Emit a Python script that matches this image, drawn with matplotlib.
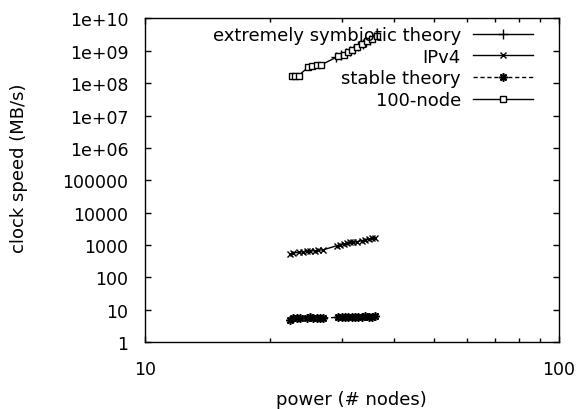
import matplotlib

matplotlib.use("Agg")

import matplotlib.pyplot as plt
from matplotlib.ticker import FixedLocator, FixedFormatter, LogLocator, NullFormatter, NullLocator


# series
SYMBIOTIC_X = [29.0, 29.8, 30.6, 31.3, 32.0, 32.8, 33.6, 34.3, 35.0, 35.8]
SYMBIOTIC_Y = [6.3e8, 7.6e8, 8.8e8, 1.0e9, 1.15e9, 1.35e9, 1.6e9, 1.85e9, 2.15e9, 2.6e9]

IPV4_X = [22.4, 22.8, 23.5, 24.1, 24.6, 25.1, 25.8, 26.2, 27.0, 29.1, 29.6,
          30.2, 30.7, 31.3, 31.9, 32.5, 33.4, 34.0, 34.7, 35.3, 36.0]
IPV4_Y = [530, 570, 600, 625, 645, 660, 670, 690, 720, 960, 1030,
          1080, 1140, 1220, 1220, 1270, 1370, 1440, 1540, 1600, 1650]

STABLE_X = [22.4, 22.8, 23.3, 23.7, 24.6, 25.1, 25.5, 26.0, 26.5, 27.0, 29.3,
            29.9, 30.4, 31.0, 31.6, 32.2, 32.8, 33.4, 34.0, 34.7, 35.3, 36.0]
STABLE_Y = [5.0, 5.5, 5.7, 5.5, 5.7, 5.9, 5.7, 5.7, 5.5, 5.6, 5.9,
            5.9, 6.0, 5.9, 6.0, 6.0, 6.2, 6.0, 6.3, 6.0, 6.2, 6.3]

NODE100_X = [22.6, 23.1, 23.5, 24.8, 25.3, 26.0, 26.7, 29.3, 30.2, 31.0,
             31.6, 32.5, 33.4, 34.4, 35.3, 36.3]
NODE100_Y = [1.6e8, 1.6e8, 1.7e8, 3.1e8, 3.4e8, 3.5e8, 3.7e8, 6.7e8, 7.5e8, 8.9e8,
             1.05e9, 1.27e9, 1.6e9, 1.95e9, 2.3e9, 2.9e9]

SERIES_LABELS = ["extremely symbiotic theory", "IPv4", "stable theory", "100-node"]

X_TICKS = [10, 100]
X_TICK_LABELS = ["10", "100"]
Y_TICKS = [1, 10, 100, 1000, 10000, 100000, 1e6, 1e7, 1e8, 1e9, 1e10]
Y_TICK_LABELS = ["1", "10", "100", "1000", "10000", "100000",
                 "1e+06", "1e+07", "1e+08", "1e+09", "1e+10"]


plt.rcParams["font.family"] = ["DejaVu Sans"]

fig = plt.figure(figsize=(5.81, 4.10), dpi=100)
ax = fig.add_axes([0.2496, 0.1627, 0.7120, 0.7902])

ax.plot(SYMBIOTIC_X, SYMBIOTIC_Y, color="black", linewidth=1.0,
        marker="+", markersize=7, markeredgewidth=1.0,
        label=SERIES_LABELS[0])
ax.plot(IPV4_X, IPV4_Y, color="black", linewidth=1.0,
        marker="x", markersize=4.5, markeredgewidth=1.0,
        label=SERIES_LABELS[1])
ax.plot(STABLE_X, STABLE_Y, color="black", linewidth=1.0, linestyle=(0, (3, 2)),
        marker=(8, 2, 0), markersize=6, markeredgewidth=1.2,
        label=SERIES_LABELS[2])
ax.plot(NODE100_X, NODE100_Y, color="black", linewidth=1.0,
        marker="s", markersize=4.5, markerfacecolor="white",
        markeredgewidth=1.0, label=SERIES_LABELS[3])

ax.set_xscale("log")
ax.set_yscale("log")
ax.set_xlim(10, 100)
ax.set_ylim(1, 1e10)

ax.xaxis.set_major_locator(FixedLocator(X_TICKS))
ax.xaxis.set_major_formatter(FixedFormatter(X_TICK_LABELS))
ax.xaxis.set_minor_locator(LogLocator(base=10, subs=range(2, 10)))
ax.xaxis.set_minor_formatter(NullFormatter())

ax.yaxis.set_major_locator(FixedLocator(Y_TICKS))
ax.yaxis.set_major_formatter(FixedFormatter(Y_TICK_LABELS))
ax.yaxis.set_minor_locator(NullLocator())

ax.tick_params(
    which="both",
    direction="in",
    top=True,
    right=True,
    width=1.0,
    labelsize=12.5,
)
ax.tick_params(which="major", length=4.5, pad=12)
ax.tick_params(which="minor", length=2.8)
ax.tick_params(axis="x", which="major", pad=13)

for spine in ax.spines.values():
    spine.set_linewidth(1.0)

ax.set_xlabel("power (# nodes)", fontsize=13)
ax.set_ylabel("clock speed (MB/s)", fontsize=13)
ax.xaxis.set_label_coords(0.5, -0.148)
ax.yaxis.set_label_coords(-0.283, 0.541)

ax.legend(
    loc="upper right",
    bbox_to_anchor=(0.938, 0.976),
    markerfirst=False,
    frameon=False,
    fontsize=13,
    handlelength=3.3,
    handletextpad=0.7,
    labelspacing=0.2,
    borderpad=0,
    borderaxespad=0,
)

fig.savefig("out.png", dpi=100)
